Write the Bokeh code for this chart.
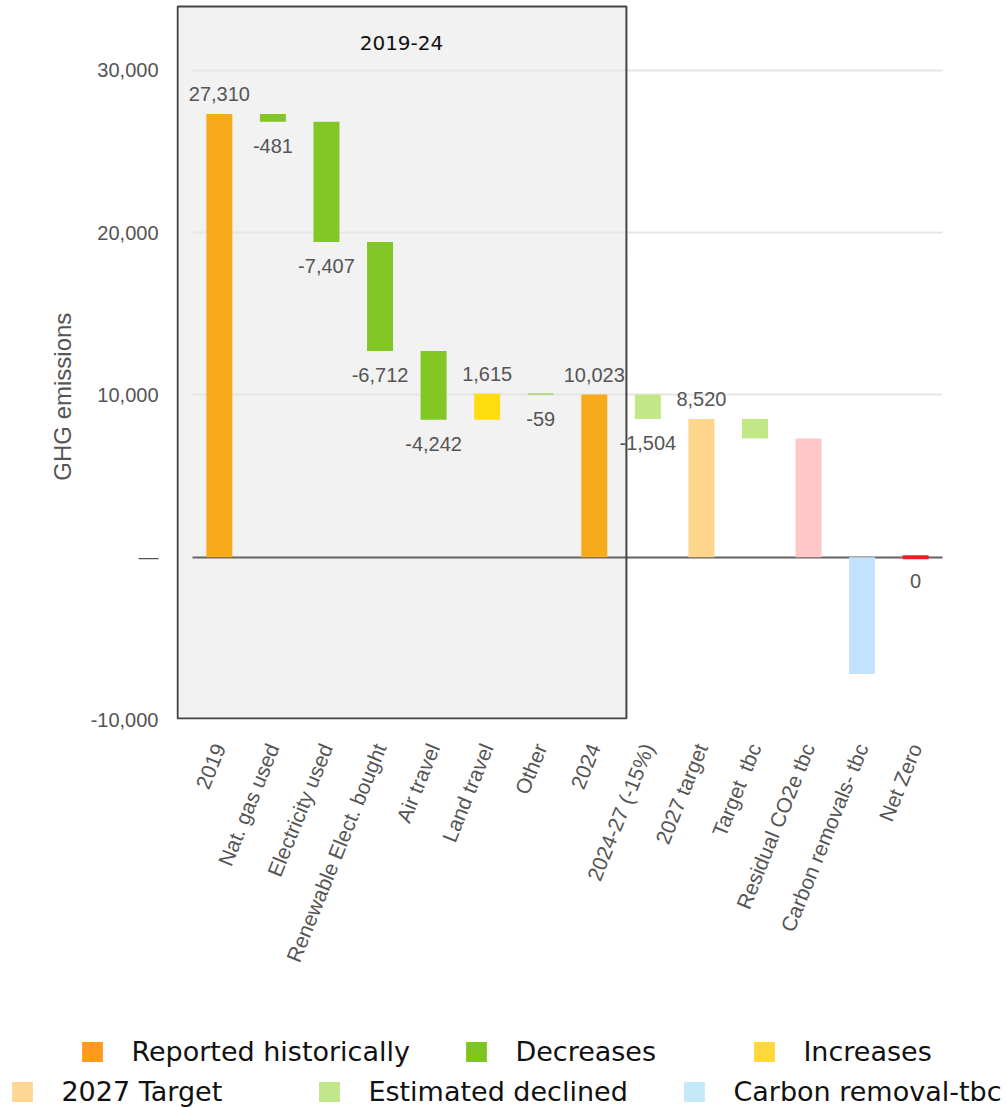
import math
from bokeh.plotting import figure
from bokeh.layouts import column
from bokeh.models import (ColumnDataSource, Range1d, FactorRange, FixedTicker,
                          NumeralTickFormatter, BoxAnnotation, Grid, Label,
                          Legend, LegendItem)
from bokeh.embed import file_html
from bokeh.resources import INLINE
from bokeh.core.properties import value

# ---------------- data ----------------
categories = ["2019", "Nat. gas used", "Electricity used", "Renewable Elect. bought",
              "Air travel", "Land travel", "Other", "2024", "2024-27 (-15%)",
              "2027 target", "Target \u00a0tbc", "Residual CO2e tbc",
              "Carbon removals- tbc", "Net Zero"]
values = [27310, -481, -7407, -6712, -4242, 1615, -59, 10023, -1504, 8520,
          -1200, 7320, -7200, 0]
is_total = [True, False, False, False, False, False, False, True, False, True,
            False, True, True, True]
kinds = ["reported", "decrease", "decrease", "decrease", "decrease", "increase",
         "decrease", "reported", "estimated", "target", "estimated", "residual",
         "removal", "netzero"]
show_label = [True, True, True, True, True, True, True, True, True, True,
              False, False, False, True]

y_ticks = [-10000, 0, 10000, 20000, 30000]
y_title = "GHG emissions"
period_label = "2019-24"
legend_labels = ["Reported historically", "Decreases", "Increases",
                 "2027 Target", "Estimated declined", "Carbon removal-tbc"]

# ---------------- styles ----------------
bar_color = {"reported": "#F8AB1A", "decrease": "#82C723", "increase": "#FFDD11",
             "estimated": "#C1E787", "target": "#FDD58B", "residual": "#FFC8C6",
             "removal": "#C1E3FF", "netzero": "#E8201F"}
legend_colors = ["#FF9A1C", "#7EC61F", "#FFD83B", "#FDD895", "#C0E68A", "#C6E9F9"]
legend_pos = [(79.4, 41), (463.4, 41), (751.4, 41),
              (9.4, 1.5), (316.4, 1.5), (681.4, 1.5)]
gray = "#555555"
FONT = "Liberation Sans"
NB = "\u00a0"

# ---------------- waterfall geometry ----------------
tops, bottoms = [], []
running = 0
for v, t in zip(values, is_total):
    start, end = (0, v) if t else (running, running + v)
    running = end
    bottoms.append(min(start, end))
    tops.append(max(start, end))

x_range = FactorRange(factors=categories, range_padding=0.3,
                      range_padding_units="absolute")
p = figure(x_range=x_range, y_range=Range1d(-10000, 34300),
           width=1006, height=1030, min_border_left=176, min_border_right=48,
           min_border_top=0, min_border_bottom=311,
           output_backend="svg", toolbar_location=None)
p.outline_line_color = None
p.background_fill_color = "white"
p.border_fill_color = "white"

# shaded period box: fill below everything
p.add_layout(BoxAnnotation(left=-0.3, right=8.1, top=33930, fill_color="#F2F2F2",
                           fill_alpha=1.0, line_color=None, level="image"))

# grid lines and zero line
p.xgrid.grid_line_color = None
p.ygrid.ticker = FixedTicker(ticks=y_ticks)
p.ygrid.grid_line_color = "#E6E6E6"
p.ygrid.grid_line_width = 2
zero_grid = Grid(dimension=1, ticker=FixedTicker(ticks=[0]),
                 grid_line_color="#666666", grid_line_width=2, level="underlay")
p.add_layout(zero_grid)
for g in (p.ygrid[0], zero_grid):
    try:
        g.cross_bounds = (0, len(categories))
    except Exception:
        pass

# bars
nz = [i for i, v in enumerate(values) if v != 0]
z = [i for i, v in enumerate(values) if v == 0]
bar_src = ColumnDataSource(dict(
    x=[categories[i] for i in nz], top=[tops[i] for i in nz],
    bottom=[bottoms[i] for i in nz], color=[bar_color[kinds[i]] for i in nz]))
p.vbar(x="x", top="top", bottom="bottom", width=0.485, fill_color="color",
       line_color=None, source=bar_src)
zero_src = ColumnDataSource(dict(
    x=[categories[i] for i in z], y=[values[i] for i in z],
    color=[bar_color[kinds[i]] for i in z]))
p.rect(x="x", y="y", width=0.485, height=4, height_units="screen",
       fill_color="color", line_color=None, source=zero_src)

# value labels
up = [i for i in range(len(values)) if show_label[i] and values[i] > 0]
dn = [i for i in range(len(values)) if show_label[i] and values[i] <= 0]
up_src = ColumnDataSource(dict(x=[categories[i] for i in up], y=[tops[i] for i in up],
                               t=[f"{values[i]:,}" for i in up]))
dn_src = ColumnDataSource(dict(x=[categories[i] for i in dn], y=[bottoms[i] for i in dn],
                               t=[f"{values[i]:,}" for i in dn]))
for src, off in ((up_src, -20), (dn_src, 24)):
    p.text(x="x", y="y", text="t", source=src, y_offset=off, text_align="center",
           text_baseline="alphabetic", text_font=value(FONT),
           text_font_size="20px", text_color=gray)

# box border above labels
p.add_layout(BoxAnnotation(left=-0.28, right=8.1, top=33930, bottom=-9940,
                           fill_alpha=0, line_color="#444444", line_alpha=1.0,
                           line_width=2, level="annotation"))
p.add_layout(Label(x=3.9, y=677, y_units="screen", text=period_label,
                   text_align="center", text_baseline="alphabetic",
                   text_font="DejaVu Sans", text_font_size="20px",
                   text_color="#111111"))

# axes
p.yaxis.ticker = FixedTicker(ticks=y_ticks)
p.yaxis.formatter = NumeralTickFormatter(format="0,0")
p.yaxis.major_label_overrides = {0: "\u2014"}
p.yaxis.axis_line_color = None
p.yaxis.major_tick_line_color = None
p.yaxis.minor_tick_line_color = None
p.yaxis.major_tick_out = 0
p.yaxis.major_tick_in = 0
p.yaxis.major_label_standoff = 18
p.yaxis.major_label_text_font = FONT
p.yaxis.major_label_text_font_size = "20px"
p.yaxis.major_label_text_color = gray
p.yaxis.axis_label = y_title + NB * 11
p.yaxis.axis_label_standoff = 12
p.yaxis.axis_label_text_font = FONT
p.yaxis.axis_label_text_font_size = "24px"
p.yaxis.axis_label_text_font_style = "normal"
p.yaxis.axis_label_text_color = gray

p.xaxis.axis_line_color = None
p.xaxis.major_tick_line_color = None
p.xaxis.minor_tick_line_color = None
p.xaxis.major_tick_out = 0
p.xaxis.major_tick_in = 0
p.xaxis.major_label_standoff = 25
p.xaxis.major_label_orientation = math.radians(68)
p.xaxis.major_label_text_font = FONT
p.xaxis.major_label_text_font_size = "21px"
p.xaxis.major_label_text_color = gray

# legend strip (separate canvas so nothing is clipped)
lf = figure(width=1006, height=78, x_range=Range1d(0, 1), y_range=Range1d(0, 1),
            x_axis_type=None, y_axis_type=None, min_border=0,
            output_backend="svg", toolbar_location=None)
lf.outline_line_color = None
lf.grid.grid_line_color = None
for fig in (p, lf):
    try:
        fig.frame_align = False
    except Exception:
        pass
for lab, col, pos in zip(legend_labels, legend_colors, legend_pos):
    r = lf.rect(x=[-5], y=[-5], width=1, height=1, fill_color=col, line_color=None)
    lf.add_layout(Legend(items=[LegendItem(label=lab, renderers=[r])], location=pos,
                         glyph_width=26, glyph_height=25, label_height=25,
                         label_standoff=26, padding=0, margin=0,
                         border_line_color=None, background_fill_alpha=0,
                         label_text_font="DejaVu Sans", label_text_font_size="27px",
                         label_text_color="#111111"))

layout = column(p, lf, spacing=0)
open("out.html", "w").write(file_html(layout, INLINE))
